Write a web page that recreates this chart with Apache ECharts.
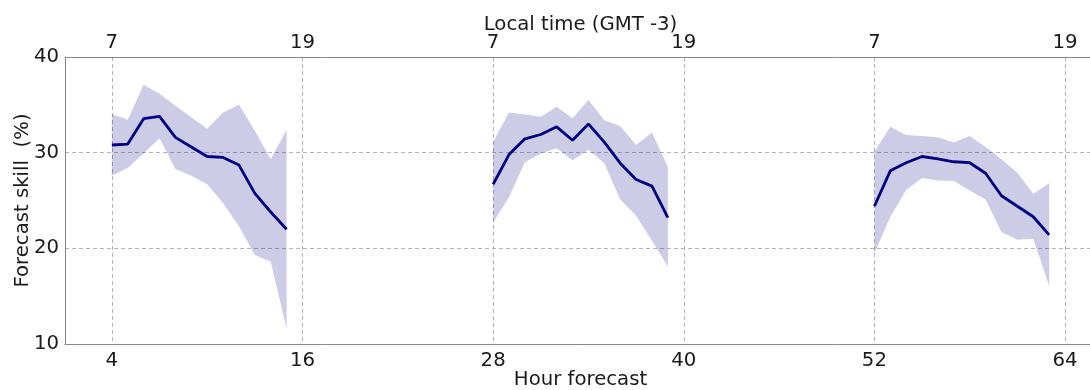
<!DOCTYPE html>
<html>
<head>
<meta charset="utf-8">
<script src="https://cdn.jsdelivr.net/npm/echarts@6/dist/echarts.min.js"></script>
<style>
html,body{margin:0;padding:0;background:#fff;}
#chart{width:1090px;height:390px;}
</style>
</head>
<body>
<div id="chart"></div>
<script>
// ---- Data ----
const tickHours = [4, 16, 28, 40, 52, 64];
const localTimeLabels = ['7', '19', '7', '19', '7', '19'];
const yTicks = [10, 20, 30, 40];

const day1Hours = [4, 5, 6, 7, 8, 9, 10, 11, 12, 13, 14, 15];
const day1Mean  = [30.8, 30.9, 33.55, 33.8, 31.6, 30.6, 29.6, 29.5, 28.7, 25.75, 23.8, 22.0];
const day1Low   = [27.6, 28.4, 29.9, 31.5, 28.3, 27.6, 26.7, 24.7, 22.3, 19.3, 18.6, 11.6];
const day1High  = [34.05, 33.45, 37.1, 36.15, 34.9, 33.7, 32.5, 34.2, 35.0, 32.3, 29.3, 32.4];

const day2Hours = [28, 29, 30, 31, 32, 33, 34, 35, 36, 37, 38, 39];
const day2Mean  = [26.7, 29.8, 31.45, 31.9, 32.7, 31.3, 33.0, 31.1, 28.9, 27.2, 26.5, 23.2];
const day2Low   = [22.7, 25.35, 29.0, 29.9, 30.45, 29.2, 30.3, 28.9, 25.1, 23.4, 20.8, 18.1];
const day2High  = [31.15, 34.2, 34.0, 33.75, 34.8, 33.6, 35.5, 33.4, 32.8, 30.8, 32.1, 28.5];

const day3Hours = [52, 53, 54, 55, 56, 57, 58, 59, 60, 61, 62, 63];
const day3Mean  = [24.4, 28.1, 28.95, 29.6, 29.35, 29.05, 28.95, 27.85, 25.5, 24.4, 23.3, 21.4];
const day3Low   = [19.45, 23.3, 26.1, 27.35, 27.1, 27.05, 26.05, 25.1, 21.7, 20.9, 21.0, 16.1];
const day3High  = [30.1, 32.7, 31.85, 31.75, 31.6, 31.05, 31.75, 30.6, 29.3, 27.9, 25.7, 26.8];

// ---- Build options ----
const FONT = 'DejaVu Sans';
const FS = 19.7;
const TXT = '#1a1a1a';
const AXIS_GRAY = '#8a8a8a';
const GRID_GRAY = '#b4b4b4';
const LINE_COL = '#000080';
const BAND_COL = 'rgba(0,0,128,0.2)';

const segments = [
  {hrs: day1Hours, mean: day1Mean, low: day1Low, high: day1High},
  {hrs: day2Hours, mean: day2Mean, low: day2Low, high: day2High},
  {hrs: day3Hours, mean: day3Mean, low: day3Low, high: day3High}
];

const series = [];
// Shaded band: one polygon per segment, placed through the axes' scales
series.push({
  type: 'custom',
  silent: true,
  clip: true,
  z: 1,
  data: segments.map(s => [s.hrs[0], s.low[0]]),
  encode: {x: 0, y: 1},
  renderItem: function (params, api) {
    const s = segments[params.dataIndex];
    const pts = [];
    s.hrs.forEach((h, k) => pts.push(api.coord([h, s.high[k]])));
    for (let k = s.hrs.length - 1; k >= 0; k--) pts.push(api.coord([s.hrs[k], s.low[k]]));
    return {type: 'polygon', shape: {points: pts}, style: {fill: BAND_COL}};
  }
});
segments.forEach(s => {
  series.push({
    type: 'line', symbol: 'none', silent: true,
    lineStyle: {color: LINE_COL, width: 2.8},
    data: s.hrs.map((h, k) => [h, s.mean[k]]), z: 3
  });
});

const chart = echarts.init(document.getElementById('chart'), null, {renderer: 'canvas'});
chart.setOption({
  animation: false,
  backgroundColor: '#ffffff',
  textStyle: {fontFamily: FONT},
  grid: {left: 65, right: -6, top: 57, bottom: 46, containLabel: false, outerBoundsMode: 'none'},
  xAxis: [
    {
      type: 'value', position: 'bottom', min: 1.05, max: 65.95,
      name: 'Hour forecast', nameLocation: 'middle', nameGap: 26, nameMoveOverlap: false,
      nameTextStyle: {fontFamily: FONT, fontSize: FS, color: TXT},
      axisLine: {show: true, onZero: false, lineStyle: {color: AXIS_GRAY, width: 1}},
      axisTick: {show: false, customValues: tickHours},
      axisLabel: {customValues: tickHours, fontFamily: FONT, fontSize: FS, color: TXT, margin: 7},
      splitLine: {show: true, lineStyle: {color: GRID_GRAY, type: [4, 3], width: 1}}
    },
    {
      type: 'value', position: 'top', min: 1.05, max: 65.95,
      name: 'Local time (GMT -3)', nameLocation: 'middle', nameGap: 22, nameMoveOverlap: false,
      nameTextStyle: {fontFamily: FONT, fontSize: FS, color: TXT},
      axisLine: {show: true, onZero: false, lineStyle: {color: AXIS_GRAY, width: 1}},
      axisTick: {show: false, customValues: tickHours},
      axisLabel: {
        customValues: tickHours, fontFamily: FONT, fontSize: FS, color: TXT, margin: 4,
        formatter: v => localTimeLabels[tickHours.indexOf(v)]
      },
      splitLine: {show: false}
    }
  ],
  yAxis: {
    type: 'value', min: yTicks[0], max: yTicks[yTicks.length - 1], interval: 10,
    name: 'Forecast skill  (%)', nameLocation: 'middle', nameGap: 32, nameMoveOverlap: false,
    nameTextStyle: {fontFamily: FONT, fontSize: FS, color: TXT},
    axisLine: {show: true, lineStyle: {color: AXIS_GRAY, width: 1}},
    axisTick: {show: false},
    axisLabel: {fontFamily: FONT, fontSize: FS, color: TXT, margin: 6},
    splitLine: {show: true, lineStyle: {color: GRID_GRAY, type: [4, 3], width: 1}}
  },
  series: series
});
</script>
</body>
</html>
